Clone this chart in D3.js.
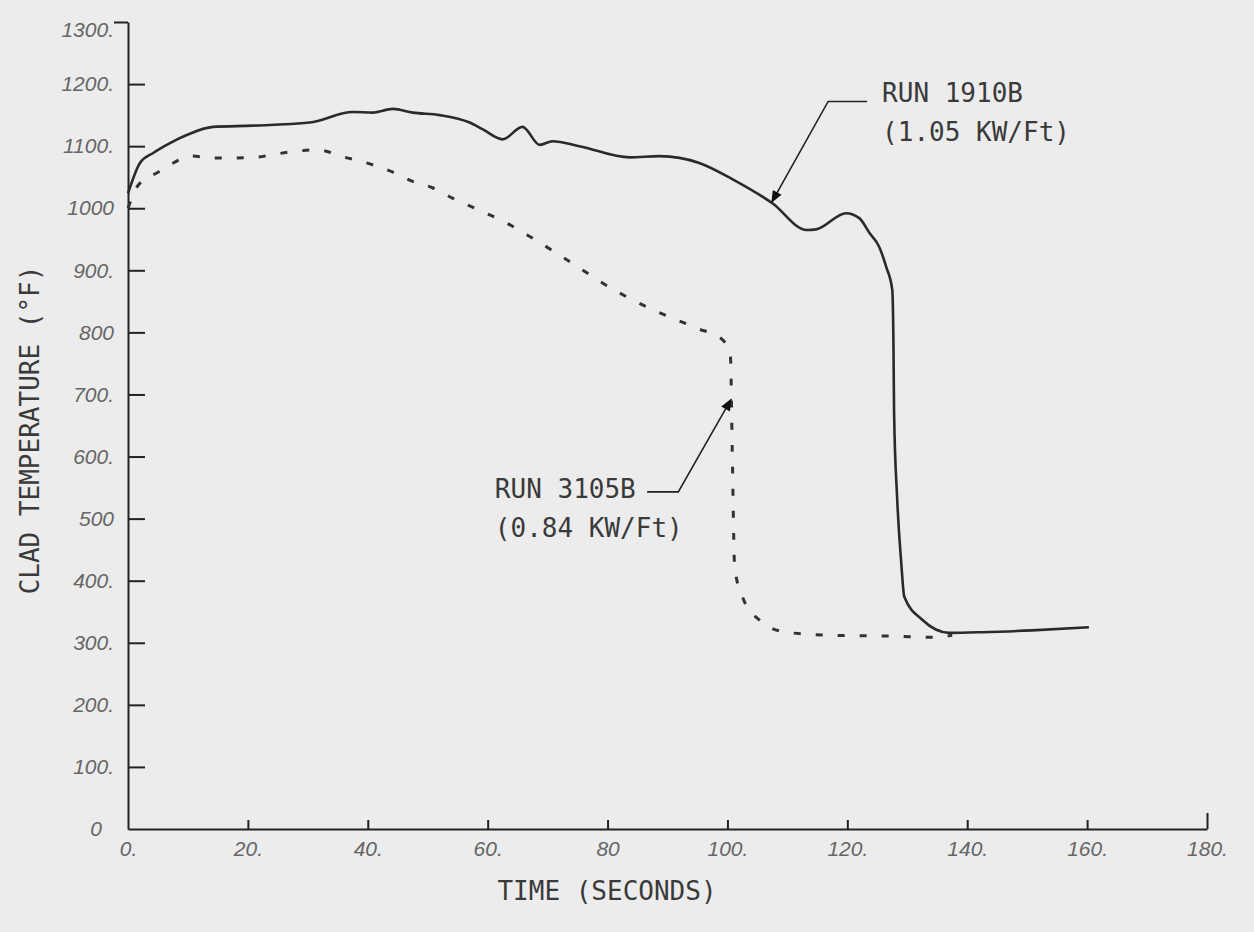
<!DOCTYPE html>
<meta charset="utf-8">
<head>
  <title>Clad temperature</title>
</head>

<style>
body {
  margin: 0;
  background: #ececec;
}
</style>

<body>
  <div id="content"></div>

  <script src="https://cdnjs.cloudflare.com/ajax/libs/d3/7.8.5/d3.min.js"></script>

  <script>
// Run 1910B (1.05 KW/Ft), solid line
var solidTime = [0, 2, 4.2, 7, 9.8, 14.2, 20.8, 30.3, 37.5, 40.8, 44.2, 47.5, 52, 57, 59.2, 62.5, 65.8, 68.7, 70.8, 75.3, 83.7, 88.7, 95.3, 100.8, 107.5, 113.2, 114.8, 119.8, 122, 123.7, 125.3, 126.5, 127.5, 127.7, 127.8, 128.3, 129, 129.5, 132.5, 137, 142.5, 150.8, 160.3];
var solidTemp = [1024, 1073, 1089, 1105, 1118, 1131, 1133, 1138, 1155, 1154, 1160, 1154, 1150, 1138, 1127, 1111, 1131, 1102, 1108, 1100, 1082, 1084, 1073, 1047, 1008, 965, 966, 992, 984, 960, 938, 905, 868, 776, 670, 535, 428, 374, 337, 316, 317, 320, 325];

// Run 3105B (0.84 KW/Ft), dashed line
var dashTime = [0, 1.7, 5, 7, 10.7, 14.2, 17.8, 21.2, 24.5, 28.2, 31.5, 36.2, 39.8, 44.2, 47.8, 50.8, 54.2, 59, 62.8, 66.6, 74, 80.8, 87, 94.8, 99.2, 100.5, 100.8, 101.2, 102.5, 105.3, 109.8, 117.5, 125.8, 134.2, 137.5];
var dashTemp = [1000, 1037, 1058, 1070, 1084, 1081, 1081, 1082, 1087, 1092, 1094, 1082, 1073, 1058, 1042, 1033, 1016, 995, 978, 957, 912, 870, 839, 807, 788, 760, 610, 422, 374, 337, 317, 312, 311, 309, 312];

var xTicks = [0, 20, 40, 60, 80, 100, 120, 140, 160, 180];
var xTickLabels = ['0.', '20.', '40.', '60.', '80', '100.', '120.', '140.', '160.', '180.'];
var yTicks = [0, 100, 200, 300, 400, 500, 600, 700, 800, 900, 1000, 1100, 1200, 1300];
var yTickLabels = ['0', '100.', '200.', '300.', '400.', '500', '600.', '700.', '800', '900.', '1000', '1100.', '1200.', '1300.'];

var width = 1254, height = 932;

var svg = d3.select('#content').append('svg')
  .attr('width', width)
  .attr('height', height);

svg.append('rect')
  .attr('width', width)
  .attr('height', height)
  .attr('fill', '#ececec');

var x = d3.scaleLinear().domain([0, 180]).range([128, 1207]);
var y = d3.scaleLinear().domain([0, 1300]).range([829, 22]);

// arrow head
svg.append('defs').append('marker')
  .attr('id', 'head')
  .attr('viewBox', '0 0 12 10')
  .attr('refX', 11)
  .attr('refY', 5)
  .attr('markerWidth', 13)
  .attr('markerHeight', 10)
  .attr('markerUnits', 'userSpaceOnUse')
  .attr('orient', 'auto')
  .append('path')
  .attr('d', 'M0,0 L12,5 L0,10 z')
  .attr('fill', '#111');

// Axes
var xAxis = d3.axisBottom(x)
  .tickValues(xTicks)
  .tickFormat(function(d, i) { return xTickLabels[i]; })
  .tickSizeInner(-9)
  .tickSizeOuter(0)
  .tickPadding(12);

var yAxis = d3.axisLeft(y)
  .tickValues(yTicks)
  .tickFormat(function(d, i) { return yTickLabels[i]; })
  .tickSizeInner(-17)
  .tickSizeOuter(0)
  .tickPadding(14);

var gx = svg.append('g')
  .attr('transform', 'translate(0,' + y(0) + ')')
  .call(xAxis);

var gy = svg.append('g')
  .attr('transform', 'translate(' + x(0) + ',0)')
  .call(yAxis);

[gx, gy].forEach(function(g) {
  g.select('.domain').attr('stroke', '#222').attr('stroke-width', 2);
  g.selectAll('.tick line').attr('stroke', '#222').attr('stroke-width', 2);
  g.selectAll('.tick text')
    .attr('fill', '#666')
    .attr('font-family', '"Liberation Sans", sans-serif')
    .attr('font-style', 'italic')
    .attr('font-size', 21);
});

// the zero tick on y is not drawn, the top tick points outwards
gy.selectAll('.tick').filter(function(d) { return d === 0; }).select('line').remove();
gy.selectAll('.tick').filter(function(d) { return d === 1300; }).select('line').attr('x2', -14);
gy.selectAll('.tick').filter(function(d) { return d === 1300; }).select('text').attr('dy', '0.7em');
gy.selectAll('.tick').filter(function(d) { return d === 0; }).select('text').attr('x', -26);
gx.selectAll('.tick').filter(function(d) { return d === 0; }).select('line').remove();
gx.selectAll('.tick').filter(function(d) { return d === 180; }).select('line').attr('y2', -16);

// Lines
var line = d3.line()
  .x(function(d) { return x(d[0]); })
  .y(function(d) { return y(d[1]); })
  .curve(d3.curveMonotoneX);

svg.append('path')
  .datum(solidTime.map(function(t, i) { return [t, solidTemp[i]]; }))
  .attr('d', line)
  .attr('fill', 'none')
  .attr('stroke', '#2a2a2a')
  .attr('stroke-width', 2.6);

svg.append('path')
  .datum(dashTime.map(function(t, i) { return [t, dashTemp[i]]; }))
  .attr('d', line)
  .attr('fill', 'none')
  .attr('stroke', '#333')
  .attr('stroke-width', 3)
  .attr('stroke-dasharray', '7,15');

// Annotations
var typeFont = '"DejaVu Sans Mono", monospace';

function note(lines, tx, ty, leader) {
  svg.append('path')
    .attr('d', d3.line()(leader.map(function(p) { return [x(p[0]), y(p[1])]; })))
    .attr('fill', 'none')
    .attr('stroke', '#222')
    .attr('stroke-width', 1.6)
    .attr('marker-end', 'url(#head)');
  var t = svg.append('text')
    .attr('x', x(tx))
    .attr('y', y(ty))
    .attr('fill', '#3a3a3a')
    .attr('font-family', typeFont)
    .attr('font-size', 26);
  lines.forEach(function(s, i) {
    t.append('tspan').attr('x', x(tx)).attr('dy', i ? 39 : 0).text(s);
  });
}

note(['RUN 1910B', '(1.05 KW/Ft)'], 125.8, 1171, [[123.3, 1172], [116.8, 1172], [107.4, 1010]]);
note(['RUN 3105B', '(0.84 KW/Ft)'], 61.2, 533, [[86.6, 543], [91.8, 543], [100.6, 692]]);

// Axis titles
svg.append('text')
  .attr('x', 607)
  .attr('y', 900)
  .attr('text-anchor', 'middle')
  .attr('fill', '#3a3a3a')
  .attr('font-family', typeFont)
  .attr('font-size', 26)
  .text('TIME (SECONDS)');

svg.append('text')
  .attr('transform', 'translate(39,430) rotate(-90)')
  .attr('text-anchor', 'middle')
  .attr('fill', '#3a3a3a')
  .attr('font-family', typeFont)
  .attr('font-size', 26)
  .text('CLAD TEMPERATURE (°F)');
  </script>
</body>
</html>
